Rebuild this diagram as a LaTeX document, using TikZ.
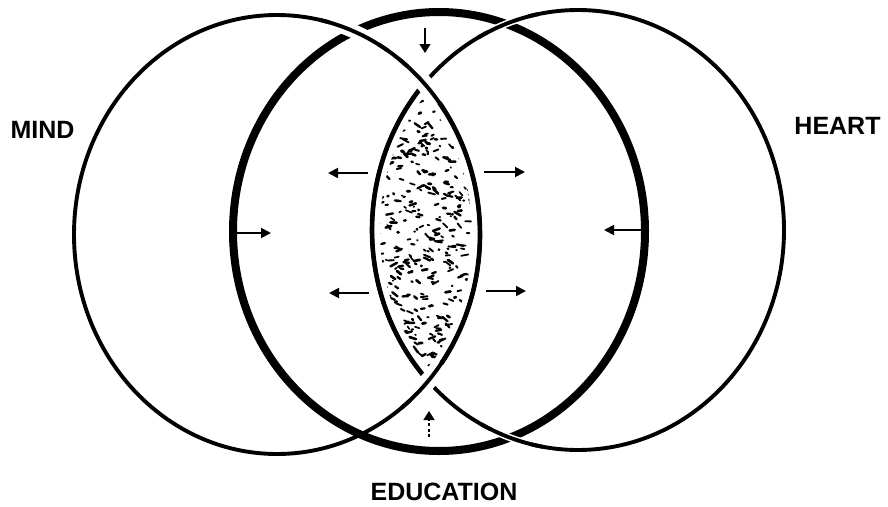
\documentclass[tikz,border=0pt]{standalone}
\usepackage{fontspec}
\setmainfont{Liberation Sans}
\usetikzlibrary{arrows.meta}
\begin{document}
\begin{tikzpicture}[x=1pt,y=-1pt,
  thinline/.style={line width=3.9pt},
  lensline/.style={line width=4.6pt},
  thickline/.style={line width=8pt},
  halo/.style={white,line width=#1},
  arr/.style={line width=1.8pt,-{Triangle[length=10pt,width=10pt]}},
  arrsmall/.style={line width=1.4pt,-{Triangle[length=9pt,width=11pt]}},
  lbl/.style={font=\fontsize{25}{30}\selectfont\bfseries, inner sep=0pt}]
\useasboundingbox (0,0) rectangle (888,506);
\coordinate (cM) at (277,234.5);
\coordinate (cH) at (578,230);
\coordinate (cE) at (439,231.5);

% stipple inside the lens
\begin{scope}
  \clip (cM) ellipse [x radius=195, y radius=211];
  \clip (cH) ellipse [x radius=198, y radius=212];
  \pgfmathsetseed{11}
  \foreach \i in {1,...,520}{
    \pgfmathsetmacro\xx{370+112*rnd}
    \pgfmathsetmacro\yy{88+285*rnd}
    \pgfmathsetmacro\aa{-30+85*rnd}
    \pgfmathsetmacro\ll{0.3+7*rnd}
    \pgfmathsetmacro\ww{1.6+1.2*rnd}
    \draw[line width=\ww pt,line cap=round] (\xx,\yy) -- ++(\aa:\ll);
  }
\end{scope}

% circles
\draw[thickline] (cE) ellipse [x radius=206, y radius=219.5];
\draw[thinline] (cM) ellipse [x radius=203, y radius=219.5];
\draw[thinline] (cH) ellipse [x radius=206, y radius=220];
% lens boundaries slightly heavier
\draw[lensline] (cM) ++(-43:203 and 219.5) arc[start angle=-43, end angle=42, x radius=203, y radius=219.5];
\draw[lensline] (cH) ++(137:206 and 220) arc[start angle=137, end angle=222, x radius=206, y radius=220];

% crossings: MIND over EDUCATION (top left)
\draw[halo=14] (cM) ++(-75:203 and 219.5) arc[start angle=-75, end angle=-60, x radius=203, y radius=219.5];
\draw[thinline] (cM) ++(-78:203 and 219.5) arc[start angle=-78, end angle=-57, x radius=203, y radius=219.5];
% MIND over HEART (lens top and bottom)
\draw[halo=17] (cM) ++(-50:203 and 219.5) arc[start angle=-50, end angle=-37, x radius=203, y radius=219.5];
\draw[thinline] (cM) ++(-53:203 and 219.5) arc[start angle=-53, end angle=-34, x radius=203, y radius=219.5];
\draw[halo=17] (cM) ++(36:203 and 219.5) arc[start angle=36, end angle=49, x radius=203, y radius=219.5];
\draw[thinline] (cM) ++(33:203 and 219.5) arc[start angle=33, end angle=52, x radius=203, y radius=219.5];
% HEART over EDUCATION
\draw[halo=7] (cH) ++(-116:206 and 220) arc[start angle=-116, end angle=-104, x radius=206, y radius=220];
\draw[thinline] (cH) ++(-119:206 and 220) arc[start angle=-119, end angle=-101, x radius=206, y radius=220];
\draw[halo=7] (cH) ++(103:206 and 220) arc[start angle=103, end angle=115, x radius=206, y radius=220];
\draw[thinline] (cH) ++(100:206 and 220) arc[start angle=100, end angle=118, x radius=206, y radius=220];

% arrows
\coordinate (a1s) at (425,28);  \coordinate (a1e) at (425,53);
\coordinate (a2s) at (429,437); \coordinate (a2e) at (429,411);
\coordinate (a3s) at (236,233); \coordinate (a3e) at (271,233);
\coordinate (a4s) at (643,230); \coordinate (a4e) at (604,230);
\coordinate (a5s) at (368,173); \coordinate (a5e) at (328,173);
\coordinate (a6s) at (369,293); \coordinate (a6e) at (329,293);
\coordinate (a7s) at (484,172); \coordinate (a7e) at (525,172);
\coordinate (a8s) at (486,291); \coordinate (a8e) at (526,291);
\draw[arrsmall] (a1s) -- (a1e);
\draw[arrsmall, dash pattern=on 3pt off 2.5pt] (a2s) -- (a2e);
\draw[arr] (a3s) -- (a3e);
\draw[arr] (a4s) -- (a4e);
\draw[arr] (a5s) -- (a5e);
\draw[arr] (a6s) -- (a6e);
\draw[arr] (a7s) -- (a7e);
\draw[arr] (a8s) -- (a8e);

% labels
\node[lbl] (mind) at (42.5,129.5) {MIND};
\node[lbl] (heart) at (837.5,126) {HEART};
\node[lbl] (edu) at (444,492) {EDUCATION};
\end{tikzpicture}
\end{document}
